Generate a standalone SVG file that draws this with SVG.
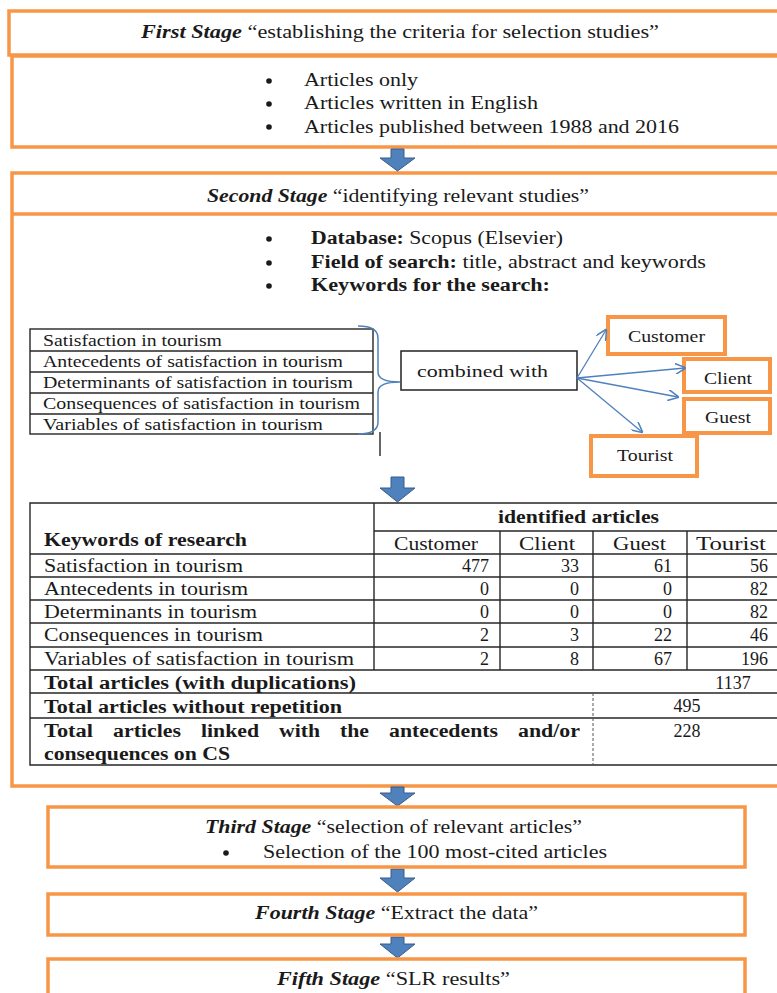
<svg xmlns="http://www.w3.org/2000/svg" width="777" height="993" viewBox="0 0 777 993">
<style>
text{font-family:"Liberation Serif","Times New Roman",serif;fill:#1a1a1a;font-size:18px}
.bi{font-weight:bold;font-style:italic}
.b{font-weight:bold}
.kw{font-size:17px}
.num{text-anchor:end}
.mid{text-anchor:middle}
.ob{fill:none;stroke:#F79646;stroke-width:3.5}
.obs{fill:#fff;stroke:#F79646;stroke-width:4}
.tl{stroke:#262626;stroke-width:1.4;fill:none}
.dash{stroke:#555;stroke-width:1;stroke-dasharray:3,2}
.ar{fill:#4F81BD;stroke:#385D8A;stroke-width:1}
.con{stroke:#4F81BD;stroke-width:1.3;fill:none}
</style>
<defs>
<marker id="oa" viewBox="0 0 10 10" refX="9" refY="5" markerWidth="11" markerHeight="11" markerUnits="userSpaceOnUse" orient="auto">
<path d="M0,0 L10,5 L0,10" fill="none" stroke="#4F81BD" stroke-width="1.4"/>
</marker>
</defs>
<rect width="777" height="993" fill="#fff"/>

<g id="stage1">
<rect class="ob" x="9" y="11" width="790" height="44"/>
<rect class="ob" x="12" y="56" width="790" height="91"/>
<text x="141" y="38" textLength="518" lengthAdjust="spacingAndGlyphs"><tspan class="bi">First Stage</tspan> “establishing the criteria for selection studies”</text>
<circle cx="269" cy="81" r="2.8" fill="#1a1a1a"/>
<circle cx="269" cy="104" r="2.8" fill="#1a1a1a"/>
<circle cx="269" cy="127" r="2.8" fill="#1a1a1a"/>
<text x="304" y="86" textLength="114" lengthAdjust="spacingAndGlyphs">Articles only</text>
<text x="304" y="109" textLength="234" lengthAdjust="spacingAndGlyphs">Articles written in English</text>
<text x="304" y="133" textLength="375" lengthAdjust="spacingAndGlyphs">Articles published between 1988 and 2016</text>
</g>

<g id="stage2">
<rect class="ob" x="12" y="173" width="790" height="613"/>
<line class="ob" x1="12" y1="214" x2="790" y2="214"/>
<text x="207" y="202" textLength="382" lengthAdjust="spacingAndGlyphs"><tspan class="bi">Second Stage</tspan> “identifying relevant studies”</text>
<circle cx="269" cy="239" r="2.8" fill="#1a1a1a"/>
<circle cx="269" cy="263" r="2.8" fill="#1a1a1a"/>
<circle cx="269" cy="286" r="2.8" fill="#1a1a1a"/>
<text x="311" y="244" textLength="252" lengthAdjust="spacingAndGlyphs"><tspan class="b">Database:</tspan> Scopus (Elsevier)</text>
<text x="311" y="268" textLength="395" lengthAdjust="spacingAndGlyphs"><tspan class="b">Field of search:</tspan> title, abstract and keywords</text>
<text x="311" y="291" textLength="239" lengthAdjust="spacingAndGlyphs" class="b">Keywords for the search:</text>
</g>

<g id="keyword-list">
<rect class="tl" x="30" y="329" width="343" height="105"/>
<line class="tl" x1="30" y1="351" x2="373" y2="351"/>
<line class="tl" x1="30" y1="372" x2="373" y2="372"/>
<line class="tl" x1="30" y1="393" x2="373" y2="393"/>
<line class="tl" x1="30" y1="414" x2="373" y2="414"/>
<text class="kw" x="43" y="346" textLength="179" lengthAdjust="spacingAndGlyphs">Satisfaction in tourism</text>
<text class="kw" x="43" y="367" textLength="300" lengthAdjust="spacingAndGlyphs">Antecedents of satisfaction in tourism</text>
<text class="kw" x="43" y="388" textLength="310" lengthAdjust="spacingAndGlyphs">Determinants of satisfaction in tourism</text>
<text class="kw" x="43" y="409" textLength="317" lengthAdjust="spacingAndGlyphs">Consequences of satisfaction in tourism</text>
<text class="kw" x="43" y="430" textLength="280" lengthAdjust="spacingAndGlyphs">Variables of satisfaction in tourism</text>
</g>

<g id="brace">
<path d="M358,326 Q378,326 378,338 L378,372 Q378,382 400,382 Q378,382 378,392 L378,422 Q378,434 358,434" fill="none" stroke="#4F81BD" stroke-width="1.5"/>
<line x1="380" y1="432" x2="380" y2="456" stroke="#333" stroke-width="1.5"/>
</g>

<g id="combined">
<rect x="401" y="351" width="176" height="39" fill="#fff" stroke="#222" stroke-width="1.5"/>
<text x="417" y="377" textLength="131" lengthAdjust="spacingAndGlyphs" class="kw">combined with</text>
</g>

<g id="customer">
<rect class="obs" x="608" y="317" width="117" height="37"/>
<text class="kw" x="628" y="342" textLength="77" lengthAdjust="spacingAndGlyphs">Customer</text>
</g>
<g id="client">
<rect class="obs" x="684" y="359" width="86" height="33"/>
<text class="kw" x="704" y="384" textLength="48" lengthAdjust="spacingAndGlyphs">Client</text>
</g>
<g id="guest">
<rect class="obs" x="684" y="399" width="86" height="34"/>
<text class="kw" x="705" y="423" textLength="46" lengthAdjust="spacingAndGlyphs">Guest</text>
</g>
<g id="tourist">
<rect class="obs" x="591" y="436" width="106" height="40"/>
<text class="kw" x="617" y="461" textLength="56" lengthAdjust="spacingAndGlyphs">Tourist</text>
</g>

<g id="connectors">
<line class="con" x1="577" y1="378" x2="606" y2="330" marker-end="url(#oa)"/>
<line class="con" x1="577" y1="378" x2="685" y2="368" marker-end="url(#oa)"/>
<line class="con" x1="577" y1="378" x2="678" y2="397" marker-end="url(#oa)"/>
<line class="con" x1="577" y1="378" x2="642" y2="432" marker-end="url(#oa)"/>
<polygon class="ar" points="391,149 404,149 404,158 415,158 397.5,171 380,158 391,158"/>
<polygon class="ar" points="391,477 404,477 404,488 415,488 397.5,502 380,488 391,488"/>
<polygon class="ar" points="391,787 404,787 404,793 415,793 397.5,806 380,793 391,793"/>
<polygon class="ar" points="391,869 404,869 404,878 415,878 397.5,892 380,878 391,878"/>
<polygon class="ar" points="391,937 404,937 404,944 415,944 397.5,958 380,944 391,944"/>
</g>

<g id="results-table">
<path class="tl" d="M790,503 L30,503 L30,765 L790,765"/>
<line class="tl" x1="374" y1="503" x2="374" y2="670"/>
<line class="tl" x1="374" y1="531" x2="790" y2="531"/>
<line class="tl" x1="500" y1="531" x2="500" y2="670"/>
<line class="tl" x1="593" y1="531" x2="593" y2="670"/>
<line class="tl" x1="687" y1="531" x2="687" y2="670"/>
<line class="tl" x1="30" y1="554" x2="790" y2="554"/>
<line class="tl" x1="30" y1="577" x2="790" y2="577"/>
<line class="tl" x1="30" y1="600" x2="790" y2="600"/>
<line class="tl" x1="30" y1="623" x2="790" y2="623"/>
<line class="tl" x1="30" y1="647" x2="790" y2="647"/>
<line class="tl" x1="30" y1="670" x2="790" y2="670"/>
<line class="tl" x1="30" y1="693" x2="790" y2="693"/>
<line class="tl" x1="30" y1="718" x2="790" y2="718"/>
<line class="dash" x1="593" y1="693" x2="593" y2="765"/>

<text class="b" x="44" y="546" textLength="203" lengthAdjust="spacingAndGlyphs">Keywords of research</text>
<text class="b" x="498" y="523" textLength="161" lengthAdjust="spacingAndGlyphs">identified articles</text>
<text x="394" y="550" textLength="84" lengthAdjust="spacingAndGlyphs">Customer</text>
<text x="519" y="550" textLength="56" lengthAdjust="spacingAndGlyphs">Client</text>
<text x="613" y="550" textLength="53" lengthAdjust="spacingAndGlyphs">Guest</text>
<text x="696" y="550" textLength="70" lengthAdjust="spacingAndGlyphs">Tourist</text>

<text x="44" y="572" textLength="199" lengthAdjust="spacingAndGlyphs">Satisfaction in tourism</text>
<text x="44" y="595" textLength="204" lengthAdjust="spacingAndGlyphs">Antecedents in tourism</text>
<text x="44" y="618" textLength="213" lengthAdjust="spacingAndGlyphs">Determinants in tourism</text>
<text x="44" y="641" textLength="219" lengthAdjust="spacingAndGlyphs">Consequences in tourism</text>
<text x="44" y="665" textLength="310" lengthAdjust="spacingAndGlyphs">Variables of satisfaction in tourism</text>

<text class="num" x="489" y="572">477</text><text class="num" x="579" y="572">33</text><text class="num" x="672" y="572">61</text><text class="num" x="768" y="572">56</text>
<text class="num" x="489" y="595">0</text><text class="num" x="579" y="595">0</text><text class="num" x="672" y="595">0</text><text class="num" x="768" y="595">82</text>
<text class="num" x="489" y="618">0</text><text class="num" x="579" y="618">0</text><text class="num" x="672" y="618">0</text><text class="num" x="768" y="618">82</text>
<text class="num" x="489" y="641">2</text><text class="num" x="579" y="641">3</text><text class="num" x="672" y="641">22</text><text class="num" x="768" y="641">46</text>
<text class="num" x="489" y="665">2</text><text class="num" x="579" y="665">8</text><text class="num" x="672" y="665">67</text><text class="num" x="768" y="665">196</text>

<text class="b" x="44" y="689" textLength="312" lengthAdjust="spacingAndGlyphs">Total articles (with duplications)</text>
<text class="mid" x="733" y="689">1137</text>
<text class="b" x="44" y="713" textLength="298" lengthAdjust="spacingAndGlyphs">Total articles without repetition</text>
<text class="mid" x="687" y="712">495</text>
<text class="b" x="44" y="737" textLength="49" lengthAdjust="spacingAndGlyphs">Total</text>
<text class="b" x="113" y="737" textLength="68" lengthAdjust="spacingAndGlyphs">articles</text>
<text class="b" x="201" y="737" textLength="58" lengthAdjust="spacingAndGlyphs">linked</text>
<text class="b" x="279" y="737" textLength="41" lengthAdjust="spacingAndGlyphs">with</text>
<text class="b" x="340" y="737" textLength="29" lengthAdjust="spacingAndGlyphs">the</text>
<text class="b" x="389" y="737" textLength="109" lengthAdjust="spacingAndGlyphs">antecedents</text>
<text class="b" x="518" y="737" textLength="62" lengthAdjust="spacingAndGlyphs">and/or</text>
<text class="b" x="44" y="760" textLength="186" lengthAdjust="spacingAndGlyphs">consequences on CS</text>
<text class="mid" x="687" y="737">228</text>
</g>

<g id="stage3">
<rect class="ob" x="48" y="807" width="697" height="60"/>
<text x="205" y="833" textLength="377" lengthAdjust="spacingAndGlyphs"><tspan class="bi">Third Stage</tspan> “selection of relevant articles”</text>
<circle cx="226" cy="853" r="2.8" fill="#1a1a1a"/>
<text x="263" y="858" textLength="344" lengthAdjust="spacingAndGlyphs">Selection of the 100 most-cited articles</text>
</g>

<g id="stage4">
<rect class="ob" x="48" y="894" width="697" height="41"/>
<text x="255" y="919" textLength="283" lengthAdjust="spacingAndGlyphs"><tspan class="bi">Fourth Stage</tspan> “Extract the data”</text>
</g>

<g id="stage5">
<rect class="ob" x="48" y="959" width="697" height="60"/>
<text x="277" y="985" textLength="233" lengthAdjust="spacingAndGlyphs"><tspan class="bi">Fifth Stage</tspan> “SLR results”</text>
</g>
</svg>
